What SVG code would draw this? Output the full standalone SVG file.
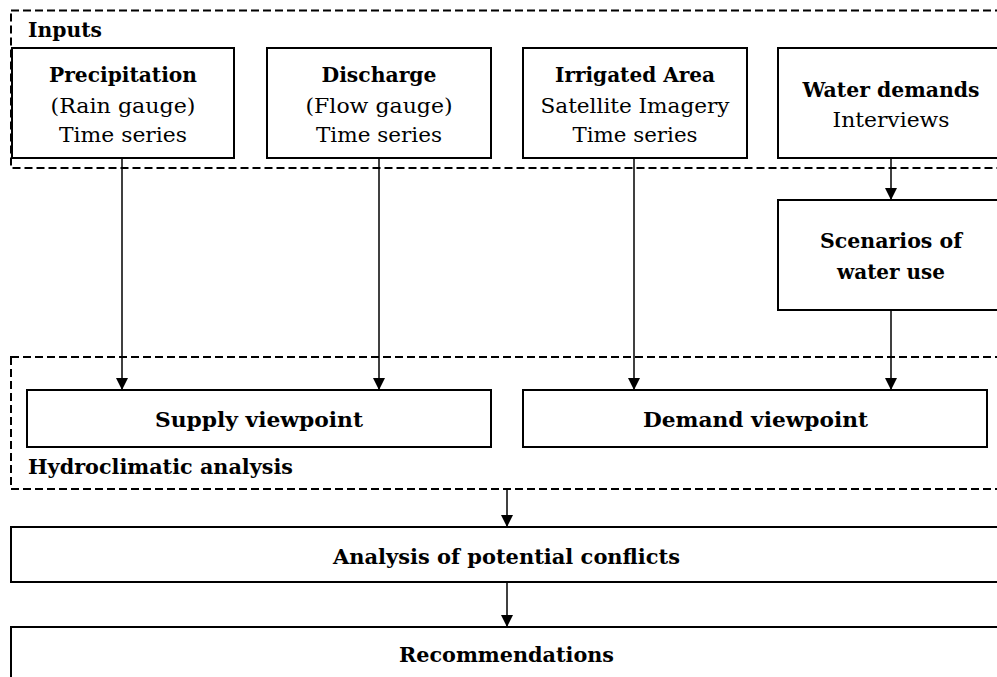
<svg xmlns="http://www.w3.org/2000/svg" width="997" height="677" viewBox="0 0 997 677">
<defs>
<style>
.box{fill:#fff;stroke:#000;stroke-width:2}
.grp{fill:none;stroke:#000;stroke-width:2;stroke-dasharray:8 4}
.t{font-family:"DejaVu Serif","Liberation Serif",serif;font-size:20px;fill:#000;text-anchor:middle}
.b{font-weight:bold}
.l{text-anchor:start}
.c{fill:none;stroke:#000;stroke-width:1.5}
</style>
<marker id="ah" markerUnits="userSpaceOnUse" markerWidth="12" markerHeight="12" viewBox="0 0 12 12" refX="12" refY="6" orient="auto">
<path d="M0,0 L12,6 L0,12 Z" fill="#000"/>
</marker>
</defs>
<rect width="997" height="677" fill="#fff"/>

<g id="inputs-group">
<rect class="grp" x="11" y="10.5" width="1000" height="157.5"/>
<text class="t b l" x="28" y="37" textLength="74" lengthAdjust="spacingAndGlyphs">Inputs</text>
</g>
<g id="hydro-group">
<rect class="grp" x="11" y="357" width="1000" height="132"/>
<text class="t b l" x="28" y="474" textLength="265" lengthAdjust="spacingAndGlyphs">Hydroclimatic analysis</text>
</g>

<g id="connectors">
<line class="c" x1="122" y1="158" x2="122" y2="390" marker-end="url(#ah)"/>
<line class="c" x1="379" y1="158" x2="379" y2="390" marker-end="url(#ah)"/>
<line class="c" x1="634" y1="158" x2="634" y2="390" marker-end="url(#ah)"/>
<line class="c" x1="891" y1="158" x2="891" y2="200" marker-end="url(#ah)"/>
<line class="c" x1="891" y1="310" x2="891" y2="390" marker-end="url(#ah)"/>
<line class="c" x1="507" y1="489" x2="507" y2="527" marker-end="url(#ah)"/>
<line class="c" x1="507" y1="582" x2="507" y2="627" marker-end="url(#ah)"/>
</g>

<g id="precipitation">
<rect class="box" x="12" y="48" width="222" height="110"/>
<text class="t b" x="123" y="82" textLength="148" lengthAdjust="spacingAndGlyphs">Precipitation</text>
<text class="t" x="123" y="113" textLength="145" lengthAdjust="spacingAndGlyphs">(Rain gauge)</text>
<text class="t" x="123" y="142" textLength="128" lengthAdjust="spacingAndGlyphs">Time series</text>
</g>
<g id="discharge">
<rect class="box" x="267" y="48" width="224" height="110"/>
<text class="t b" x="379" y="82" textLength="115" lengthAdjust="spacingAndGlyphs">Discharge</text>
<text class="t" x="379" y="113" textLength="147" lengthAdjust="spacingAndGlyphs">(Flow gauge)</text>
<text class="t" x="379" y="142" textLength="126" lengthAdjust="spacingAndGlyphs">Time series</text>
</g>
<g id="irrigated-area">
<rect class="box" x="523" y="48" width="224" height="110"/>
<text class="t b" x="635" y="82" textLength="160" lengthAdjust="spacingAndGlyphs">Irrigated Area</text>
<text class="t" x="635" y="113" textLength="189" lengthAdjust="spacingAndGlyphs">Satellite Imagery</text>
<text class="t" x="635" y="142" textLength="125" lengthAdjust="spacingAndGlyphs">Time series</text>
</g>
<g id="water-demands">
<rect class="box" x="778" y="48" width="230" height="110"/>
<text class="t b" x="891" y="97" textLength="177" lengthAdjust="spacingAndGlyphs">Water demands</text>
<text class="t" x="891" y="127" textLength="117" lengthAdjust="spacingAndGlyphs">Interviews</text>
</g>
<g id="scenarios">
<rect class="box" x="778" y="200" width="230" height="110"/>
<text class="t b" x="891" y="248" textLength="142" lengthAdjust="spacingAndGlyphs">Scenarios of</text>
<text class="t b" x="891" y="279" textLength="108" lengthAdjust="spacingAndGlyphs">water use</text>
</g>
<g id="supply-viewpoint">
<rect class="box" x="27" y="390" width="464" height="57"/>
<text class="t b" x="259" y="427" textLength="208" lengthAdjust="spacingAndGlyphs">Supply viewpoint</text>
</g>
<g id="demand-viewpoint">
<rect class="box" x="523" y="390" width="464" height="57"/>
<text class="t b" x="755.5" y="427" textLength="225" lengthAdjust="spacingAndGlyphs">Demand viewpoint</text>
</g>
<g id="analysis-conflicts">
<rect class="box" x="11" y="527" width="1000" height="55"/>
<text class="t b" x="506.5" y="564" textLength="347" lengthAdjust="spacingAndGlyphs">Analysis of potential conflicts</text>
</g>
<g id="recommendations">
<rect class="box" x="11" y="627" width="1000" height="70"/>
<text class="t b" x="506.5" y="662" textLength="215" lengthAdjust="spacingAndGlyphs">Recommendations</text>
</g>
</svg>
